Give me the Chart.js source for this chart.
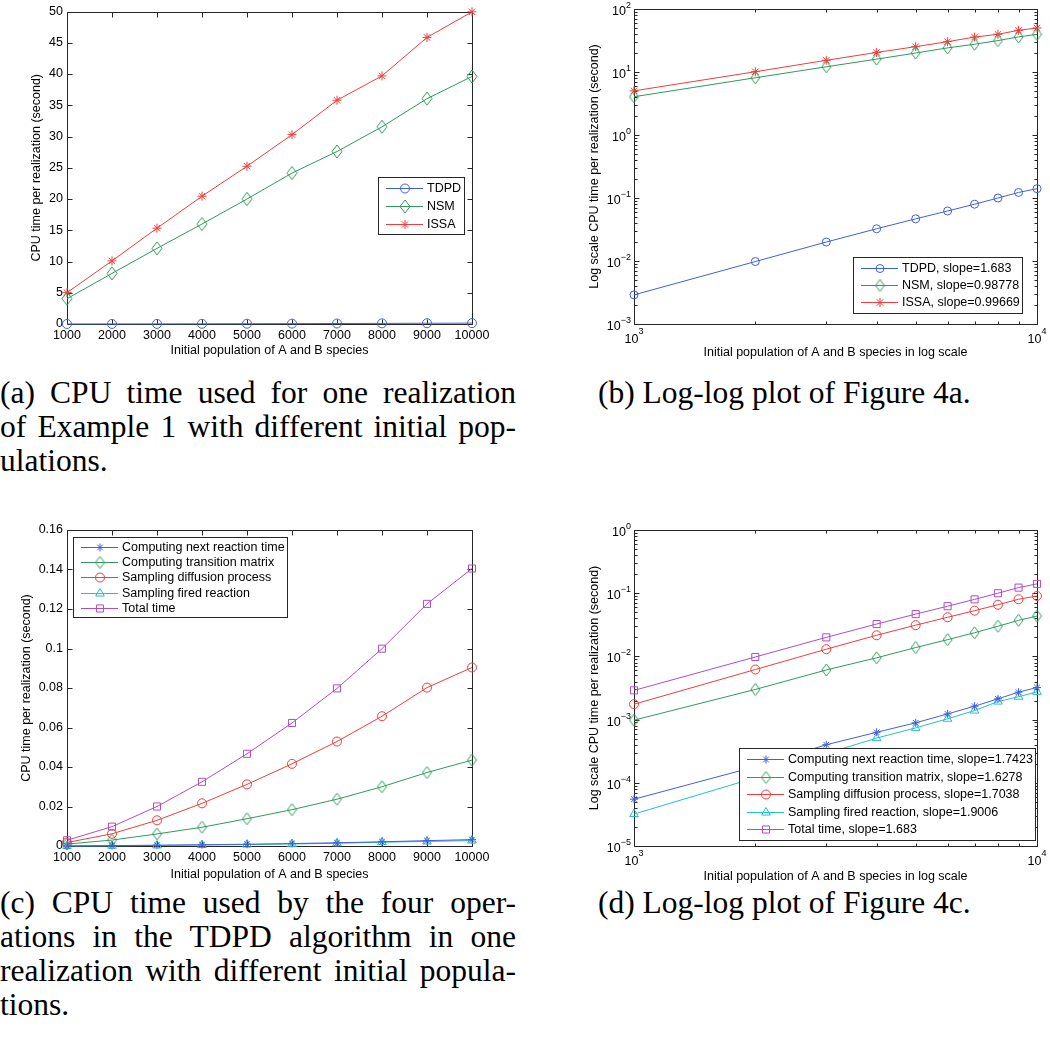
<!DOCTYPE html>
<html lang="en">
<head>
  <meta charset="UTF-8" />
  <title>CPU time per realization</title>
  <script src="https://cdn.jsdelivr.net/npm/chart.js@4"></script>
  <style>
    html, body { margin: 0; padding: 0; background: #fff; }
    #page { position: relative; width: 1050px; height: 1048px; overflow: hidden; }
    .panel { position: absolute; }
    .cap { position: absolute; width: 516px; color: #000;
           font-family: "Liberation Serif", "DejaVu Serif", serif; font-size: 31.5px; line-height: 34px; }
    .cap div { text-align: justify; text-align-last: justify; }
    .cap div.last { text-align-last: left; }
  </style>
</head>
<body>
<div id="page">
  <div class="panel" style="left:0;top:0;width:525px;height:365px"><canvas id="chartA"></canvas></div>
  <div class="panel" style="left:525px;top:0;width:525px;height:365px"><canvas id="chartB"></canvas></div>
  <div class="panel" style="left:0;top:495px;width:525px;height:390px"><canvas id="chartC"></canvas></div>
  <div class="panel" style="left:525px;top:495px;width:525px;height:390px"><canvas id="chartD"></canvas></div>

  <div class="cap" style="left:0;top:376px">
    <div>(a) CPU time used for one realization</div>
    <div>of Example 1 with different initial pop-</div>
    <div class="last">ulations.</div>
  </div>
  <div class="cap" style="left:598px;top:376px">
    <div class="last">(b) Log-log plot of Figure 4a.</div>
  </div>
  <div class="cap" style="left:0;top:886px">
    <div>(c) CPU time used by the four oper-</div>
    <div>ations in the TDPD algorithm in one</div>
    <div>realization with different initial popula-</div>
    <div class="last">tions.</div>
  </div>
  <div class="cap" style="left:598px;top:886px">
    <div class="last">(d) Log-log plot of Figure 4c.</div>
  </div>
</div>

<script>
  // initial population of A and B species
  const population = [1000, 2000, 3000, 4000, 5000, 6000, 7000, 8000, 9000, 10000];

  // figure (a)/(b): seconds per realization
  const tdpdTime = [0.0029, 0.0098, 0.0200, 0.0325, 0.0467, 0.0622, 0.0797, 0.0999, 0.1225, 0.1405];
  const nsmTime = [4.05, 8.1, 12.1, 16.0, 20.0, 24.15, 27.6, 31.55, 36.05, 39.6];
  const issaTime = [5.02, 10.1, 15.33, 20.45, 25.25, 30.3, 35.8, 39.7, 45.85, 49.95];

  // figure (c)/(d): the four TDPD operations
  const nextReactionTime = [0.000055, 0.00018, 0.00040, 0.00063, 0.00089, 0.00123, 0.00163, 0.00213, 0.00272, 0.00322];
  const transitionTime = [0.00098, 0.0030, 0.0061, 0.0095, 0.0138, 0.0184, 0.0237, 0.0300, 0.0372, 0.0435];
  const diffusionTime = [0.00175, 0.0062, 0.0130, 0.0216, 0.0312, 0.0416, 0.0529, 0.0657, 0.0802, 0.0904];
  const firedTime = [0.000032, 0.00012, 0.00029, 0.00051, 0.00074, 0.00103, 0.00139, 0.00193, 0.00230, 0.00275];
  const totalTime = [0.0029, 0.0098, 0.0200, 0.0325, 0.0467, 0.0623, 0.0798, 0.0999, 0.1226, 0.1405];

  const labelsA = ['TDPD', 'NSM', 'ISSA'];
  const labelsB = ['TDPD, slope=1.683', 'NSM, slope=0.98778', 'ISSA, slope=0.99669'];
  const labelsC = ['Computing next reaction time', 'Computing transition matrix',
                   'Sampling diffusion process', 'Sampling fired reaction', 'Total time'];
  const labelsD = ['Computing next reaction time, slope=1.7423', 'Computing transition matrix, slope=1.6278',
                   'Sampling diffusion process, slope=1.7038', 'Sampling fired reaction, slope=1.9006',
                   'Total time, slope=1.683'];

  // axis ticks
  const xDecades = [1000, 10000];
  const yDecadesB = [0.001, 0.01, 0.1, 1, 10, 100];
  const yDecadesD = [0.00001, 0.0001, 0.001, 0.01, 0.1, 1];

  const SANS = '"Liberation Sans", Arial, Helvetica, sans-serif';
  const AXIS = '#262626';
  const BLUE = '#4060d8', GREEN = '#2e9a5c', RED = '#f03c3c', CYAN = '#22c0c8', MAGENTA = '#b04cc4';

  Chart.defaults.font.family = SANS;
  Chart.defaults.font.size = 12.5;
  Chart.defaults.color = '#000';

  // matlab style diamond, a bit taller than wide
  function diamond(color, w, h) {
    const c = document.createElement('canvas');
    c.width = w + 2; c.height = h + 2;
    const g = c.getContext('2d');
    g.strokeStyle = color; g.lineWidth = 1;
    g.beginPath();
    g.moveTo(c.width / 2, 1);
    g.lineTo(c.width - 1, c.height / 2);
    g.lineTo(c.width / 2, c.height - 1);
    g.lineTo(1, c.height / 2);
    g.closePath();
    g.stroke();
    return c;
  }

  function series(label, values, color, style, radius) {
    return {
      label,
      data: population.map((p, i) => ({ x: p, y: values[i] })),
      borderColor: color,
      backgroundColor: color,
      borderWidth: 1,
      tension: 0,
      pointStyle: style,
      pointRadius: radius,
      pointHoverRadius: radius,
      pointBorderColor: color,
      pointBackgroundColor: 'rgba(0,0,0,0)',
      pointBorderWidth: 1,
      clip: false
    };
  }

  function logTicks(decades) {
    const out = [];
    decades.forEach((d, i) => {
      out.push({ value: d, major: true });
      if (i < decades.length - 1) {
        for (let k = 2; k <= 9; k++) out.push({ value: d * k, major: false });
      }
    });
    return out;
  }

  // box round the plot with ticks pointing inwards on all four sides
  const axesBox = {
    id: 'axesBox',
    beforeDatasetsDraw(chart) {
      const { ctx, chartArea: a, scales } = chart;
      const L = Math.round(a.left) + 0.5, R = Math.round(a.right) + 0.5;
      const T = Math.round(a.top) + 0.5, B = Math.round(a.bottom) + 0.5;
      ctx.save();
      ctx.strokeStyle = AXIS;
      ctx.lineWidth = 1;
      ctx.beginPath();
      ctx.rect(L, T, R - L, B - T);
      scales.x.ticks.forEach(t => {
        const len = t.major === false ? 3 : 5;
        const px = Math.round(scales.x.getPixelForValue(t.value)) + 0.5;
        ctx.moveTo(px, B); ctx.lineTo(px, B - len);
        ctx.moveTo(px, T); ctx.lineTo(px, T + len);
      });
      scales.y.ticks.forEach(t => {
        const len = t.major === false ? 3 : 5;
        const py = Math.round(scales.y.getPixelForValue(t.value)) + 0.5;
        ctx.moveTo(L, py); ctx.lineTo(L + len, py);
        ctx.moveTo(R, py); ctx.lineTo(R - len, py);
      });
      ctx.stroke();
      ctx.restore();
    }
  };

  // 10^n labels for the log axes
  const logLabels = {
    id: 'logLabels',
    afterDraw(chart) {
      const { ctx, chartArea: a, scales: { x, y } } = chart;
      const base = '12.5px ' + SANS, sup = '9px ' + SANS;
      const expo = v => String(Math.round(Math.log10(v))).replace('-', '\u2212');
      ctx.save();
      ctx.fillStyle = '#000';
      ctx.textAlign = 'left';
      ctx.textBaseline = 'alphabetic';
      y.ticks.filter(t => t.major).forEach(t => {
        const py = y.getPixelForValue(t.value);
        const e = expo(t.value);
        ctx.font = sup; const ew = ctx.measureText(e).width;
        ctx.font = base; const bw = ctx.measureText('10').width;
        const right = a.left - 3;
        ctx.fillText('10', right - ew - bw, py + 6);
        ctx.font = sup; ctx.fillText(e, right - ew, py - 1);
      });
      x.ticks.filter(t => t.major).forEach(t => {
        const px = x.getPixelForValue(t.value);
        const e = expo(t.value);
        ctx.font = base; const bw = ctx.measureText('10').width;
        const start = px - bw / 2 - 2.5;
        ctx.fillText('10', start, a.bottom + 19);
        ctx.font = sup; ctx.fillText(e, start + bw, a.bottom + 10);
      });
      ctx.restore();
    }
  };

  // matlab like legend: line, marker in the middle, text, framed box
  const boxLegend = {
    id: 'boxLegend',
    afterDatasetsDraw(chart, args, o) {
      const ctx = chart.ctx;
      ctx.save();
      ctx.fillStyle = '#fff';
      ctx.fillRect(o.left, o.top, o.width, o.height);
      ctx.strokeStyle = AXIS;
      ctx.lineWidth = 1;
      ctx.strokeRect(o.left + 0.5, o.top + 0.5, o.width, o.height);
      chart.data.datasets.forEach((ds, i) => {
        const yy = Math.round(o.top + o.first + i * o.pitch) + 0.5;
        ctx.strokeStyle = ds.borderColor;
        ctx.lineWidth = 1;
        ctx.beginPath();
        ctx.moveTo(o.left + 8, yy);
        ctx.lineTo(o.left + 45, yy);
        ctx.stroke();
        ctx.fillStyle = 'rgba(0,0,0,0)';
        Chart.helpers.drawPoint(ctx, { pointStyle: ds.pointStyle, radius: ds.pointRadius, borderWidth: 1, rotation: 0 },
          o.left + 27, yy);
        ctx.fillStyle = '#000';
        ctx.font = '12.5px ' + SANS;
        ctx.textBaseline = 'middle';
        ctx.textAlign = 'left';
        ctx.fillText(ds.label, o.left + 49, yy);
      });
      ctx.restore();
    }
  };

  function axisTitle(text, pad) {
    return { display: true, text, color: '#000', font: { size: 12.5 }, padding: pad };
  }

  function makeChart(id, datasets, box, scales, legend) {
    const W = 525, H = box.H;
    return new Chart(document.getElementById(id), {
      type: 'line',
      data: { datasets },
      options: {
        responsive: true,
        maintainAspectRatio: false,
        animation: false,
        events: [],
        layout: { padding: { left: 0, top: box.T, right: W - box.R, bottom: 0 } },
        plugins: { legend: { display: false }, tooltip: { enabled: false }, boxLegend: legend },
        scales: {
          x: Object.assign({
            grid: { display: false, drawTicks: false },
            border: { display: false },
            afterFit: s => { s.height = H - box.B; }
          }, scales.x),
          y: Object.assign({
            grid: { display: false, drawTicks: false },
            border: { display: false },
            afterFit: s => { s.width = box.L; }
          }, scales.y)
        }
      },
      plugins: scales.log ? [axesBox, boxLegend, logLabels] : [axesBox, boxLegend]
    });
  }

  // (a) linear
  makeChart('chartA', [
    series(labelsA[0], tdpdTime, BLUE, 'circle', 4.5),
    series(labelsA[1], nsmTime, GREEN, diamond(GREEN, 10, 13), 5),
    series(labelsA[2], issaTime, RED, 'star', 4.5)
  ], { H: 365, L: 67, T: 9, R: 472, B: 324 }, {
    x: {
      type: 'linear', min: 1000, max: 10000,
      ticks: { stepSize: 1000, autoSkip: false, maxRotation: 0, padding: 4, callback: v => String(v) },
      title: axisTitle('Initial population of A and B species', { top: 0, bottom: 6.5 })
    },
    y: {
      type: 'linear', min: 0, max: 50,
      ticks: { stepSize: 5, autoSkip: false, padding: 4, callback: v => String(v) },
      title: axisTitle('CPU time per realization (second)', { top: 29.5, bottom: 0 })
    }
  }, { left: 378, top: 177, width: 86, height: 57, first: 11, pitch: 18 });

  // (b) log-log
  makeChart('chartB', [
    series(labelsB[0], tdpdTime, BLUE, 'circle', 4),
    series(labelsB[1], nsmTime, GREEN, diamond(GREEN, 9, 12), 5),
    series(labelsB[2], issaTime, RED, 'star', 4.5)
  ], { H: 365, L: 109, T: 9, R: 512, B: 324 }, {
    log: true,
    x: {
      type: 'logarithmic', min: 1000, max: 10000,
      ticks: { display: false },
      afterBuildTicks: s => { s.ticks = logTicks(xDecades); },
      title: axisTitle('Initial population of A and B species in log scale', { top: 0, bottom: 4.5 })
    },
    y: {
      type: 'logarithmic', min: 0.001, max: 100,
      ticks: { display: false },
      afterBuildTicks: s => { s.ticks = logTicks(yDecadesB); },
      title: axisTitle('Log scale CPU time per realization (second)', { top: 62.5, bottom: 0 })
    }
  }, { left: 328, top: 257, width: 169, height: 56, first: 11, pitch: 17 });

  // (c) linear
  makeChart('chartC', [
    series(labelsC[0], nextReactionTime, BLUE, 'star', 4),
    series(labelsC[1], transitionTime, GREEN, diamond(GREEN, 9, 12), 5),
    series(labelsC[2], diffusionTime, RED, 'circle', 4.5),
    series(labelsC[3], firedTime, CYAN, 'triangle', 5),
    series(labelsC[4], totalTime, MAGENTA, 'rect', 5)
  ], { H: 390, L: 67, T: 35, R: 472, B: 351 }, {
    x: {
      type: 'linear', min: 1000, max: 10000,
      ticks: { stepSize: 1000, autoSkip: false, maxRotation: 0, padding: 4, callback: v => String(v) },
      title: axisTitle('Initial population of A and B species', { top: 0, bottom: 2.5 })
    },
    y: {
      type: 'linear', min: 0, max: 0.16,
      ticks: { stepSize: 0.02, autoSkip: false, padding: 4, callback: v => String(+v.toFixed(2)) },
      title: axisTitle('CPU time per realization (second)', { top: 19.5, bottom: 0 })
    }
  }, { left: 73, top: 42, width: 214, height: 80, first: 10, pitch: 15.2 });

  // (d) log-log
  makeChart('chartD', [
    series(labelsD[0], nextReactionTime, BLUE, 'star', 4),
    series(labelsD[1], transitionTime, GREEN, diamond(GREEN, 9, 12), 5),
    series(labelsD[2], diffusionTime, RED, 'circle', 4.5),
    series(labelsD[3], firedTime, CYAN, 'triangle', 5),
    series(labelsD[4], totalTime, MAGENTA, 'rect', 5)
  ], { H: 390, L: 109, T: 35, R: 512, B: 351 }, {
    log: true,
    x: {
      type: 'logarithmic', min: 1000, max: 10000,
      ticks: { display: false },
      afterBuildTicks: s => { s.ticks = logTicks(xDecades); },
      title: axisTitle('Initial population of A and B species in log scale', { top: 0, bottom: 0.5 })
    },
    y: {
      type: 'logarithmic', min: 0.00001, max: 1,
      ticks: { display: false },
      afterBuildTicks: s => { s.ticks = logTicks(yDecadesD); },
      title: axisTitle('Log scale CPU time per realization (second)', { top: 62.5, bottom: 0 })
    }
  }, { left: 214, top: 253, width: 296, height: 92, first: 11, pitch: 17.5 });
</script>
</body>
</html>
